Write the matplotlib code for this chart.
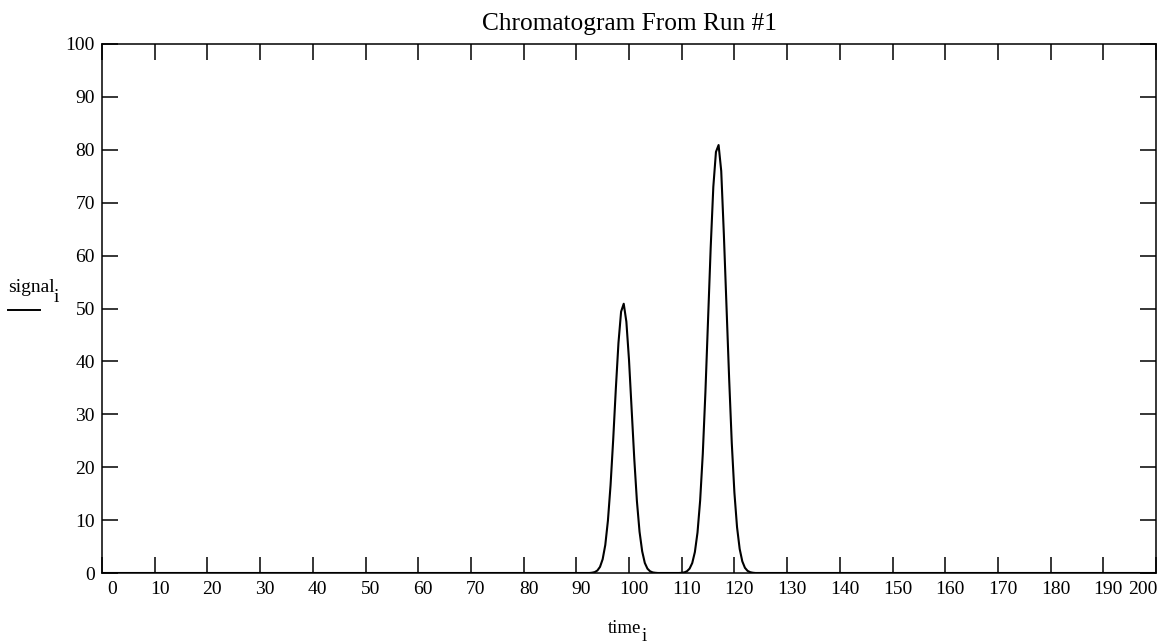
import numpy as np
import matplotlib
matplotlib.use("Agg")
import matplotlib.pyplot as plt
import matplotlib.transforms as mtransforms

plt.rcParams["font.family"] = ["Liberation Serif", "DejaVu Serif"]

# sampled run: step 0.5 from 0 to 200, baseline 0 outside the two peaks
timeStep = 0.5
timeEnd = 200.0

peak1Start = 93.0
peak1 = [0.06, 0.17, 0.47, 1.16, 2.6, 5.3, 9.9, 16.6, 25.2, 34.8, 43.5, 49.4,
         50.9, 47.5, 40.3, 30.9, 21.6, 13.6, 7.8, 4.1, 1.9, 0.82, 0.32, 0.11, 0.04]

peak2Start = 110.0
peak2 = [0.04, 0.12, 0.33, 0.83, 1.88, 3.96, 7.66, 13.7, 22.5, 34.2, 47.7, 61.5,
         73.0, 79.6, 80.9, 76.0, 64.0, 50.5, 36.8, 24.6, 15.2, 8.67, 4.55, 2.2,
         0.98, 0.40, 0.15, 0.05]

xTicks = list(range(0, 201, 10))
yTicks = list(range(0, 101, 10))

time = np.arange(0, timeEnd + timeStep / 2, timeStep)
signal = np.zeros(len(time))
i1 = int(round(peak1Start / timeStep))
signal[i1:i1 + len(peak1)] = peak1
i2 = int(round(peak2Start / timeStep))
signal[i2:i2 + len(peak2)] = peak2

fig = plt.figure(figsize=(11.63, 6.44), dpi=100)
ax = fig.add_axes([102 / 1163, 1 - 573 / 644, (1156 - 102) / 1163, (573 - 44) / 644])

ax.plot(time, signal, color="black", lw=1.5)

ax.set_xlim(0, 200)
ax.set_ylim(0, 100)
ax.set_xticks(xTicks)
ax.set_yticks(yTicks)
ax.tick_params(direction="in", length=11.5, width=1.1, top=True, right=True,
               labelsize=14, colors="black")
ax.tick_params(axis="x", pad=6)
ax.tick_params(axis="y", pad=5)
for s in ax.spines.values():
    s.set_linewidth(1.1)

# x tick labels sit a little to the right of their ticks, ends pulled inward
labels = ax.get_xticklabels()
for k, lab in enumerate(labels):
    dx = 5
    if k == 0:
        dx = 10
    if k == len(labels) - 1:
        dx = -13
    off = mtransforms.ScaledTranslation(dx / 100, 0, fig.dpi_scale_trans)
    lab.set_transform(lab.get_transform() + off)

ax.set_title("Chromatogram From Run #1", fontsize=18.3, pad=10)

# axis names written Mathcad style: name, subscript i below the baseline
fig.text(608 / 1163, 1 - 633 / 644, "time", ha="left", va="baseline", fontsize=13.5)
fig.text(642 / 1163, 1 - 641 / 644, "i", ha="left", va="baseline", fontsize=13.5)
fig.text(8 / 1163, 1 - 292 / 644, "signal", ha="left", va="baseline", fontsize=14)
fig.text(54 / 1163, 1 - 302 / 644, "i", ha="left", va="baseline", fontsize=14)
fig.add_artist(plt.Line2D([8 / 1163, 40 / 1163], [1 - 310 / 644, 1 - 310 / 644],
                          color="black", lw=1.4, transform=fig.transFigure))

plt.savefig("out.png", dpi=100)
